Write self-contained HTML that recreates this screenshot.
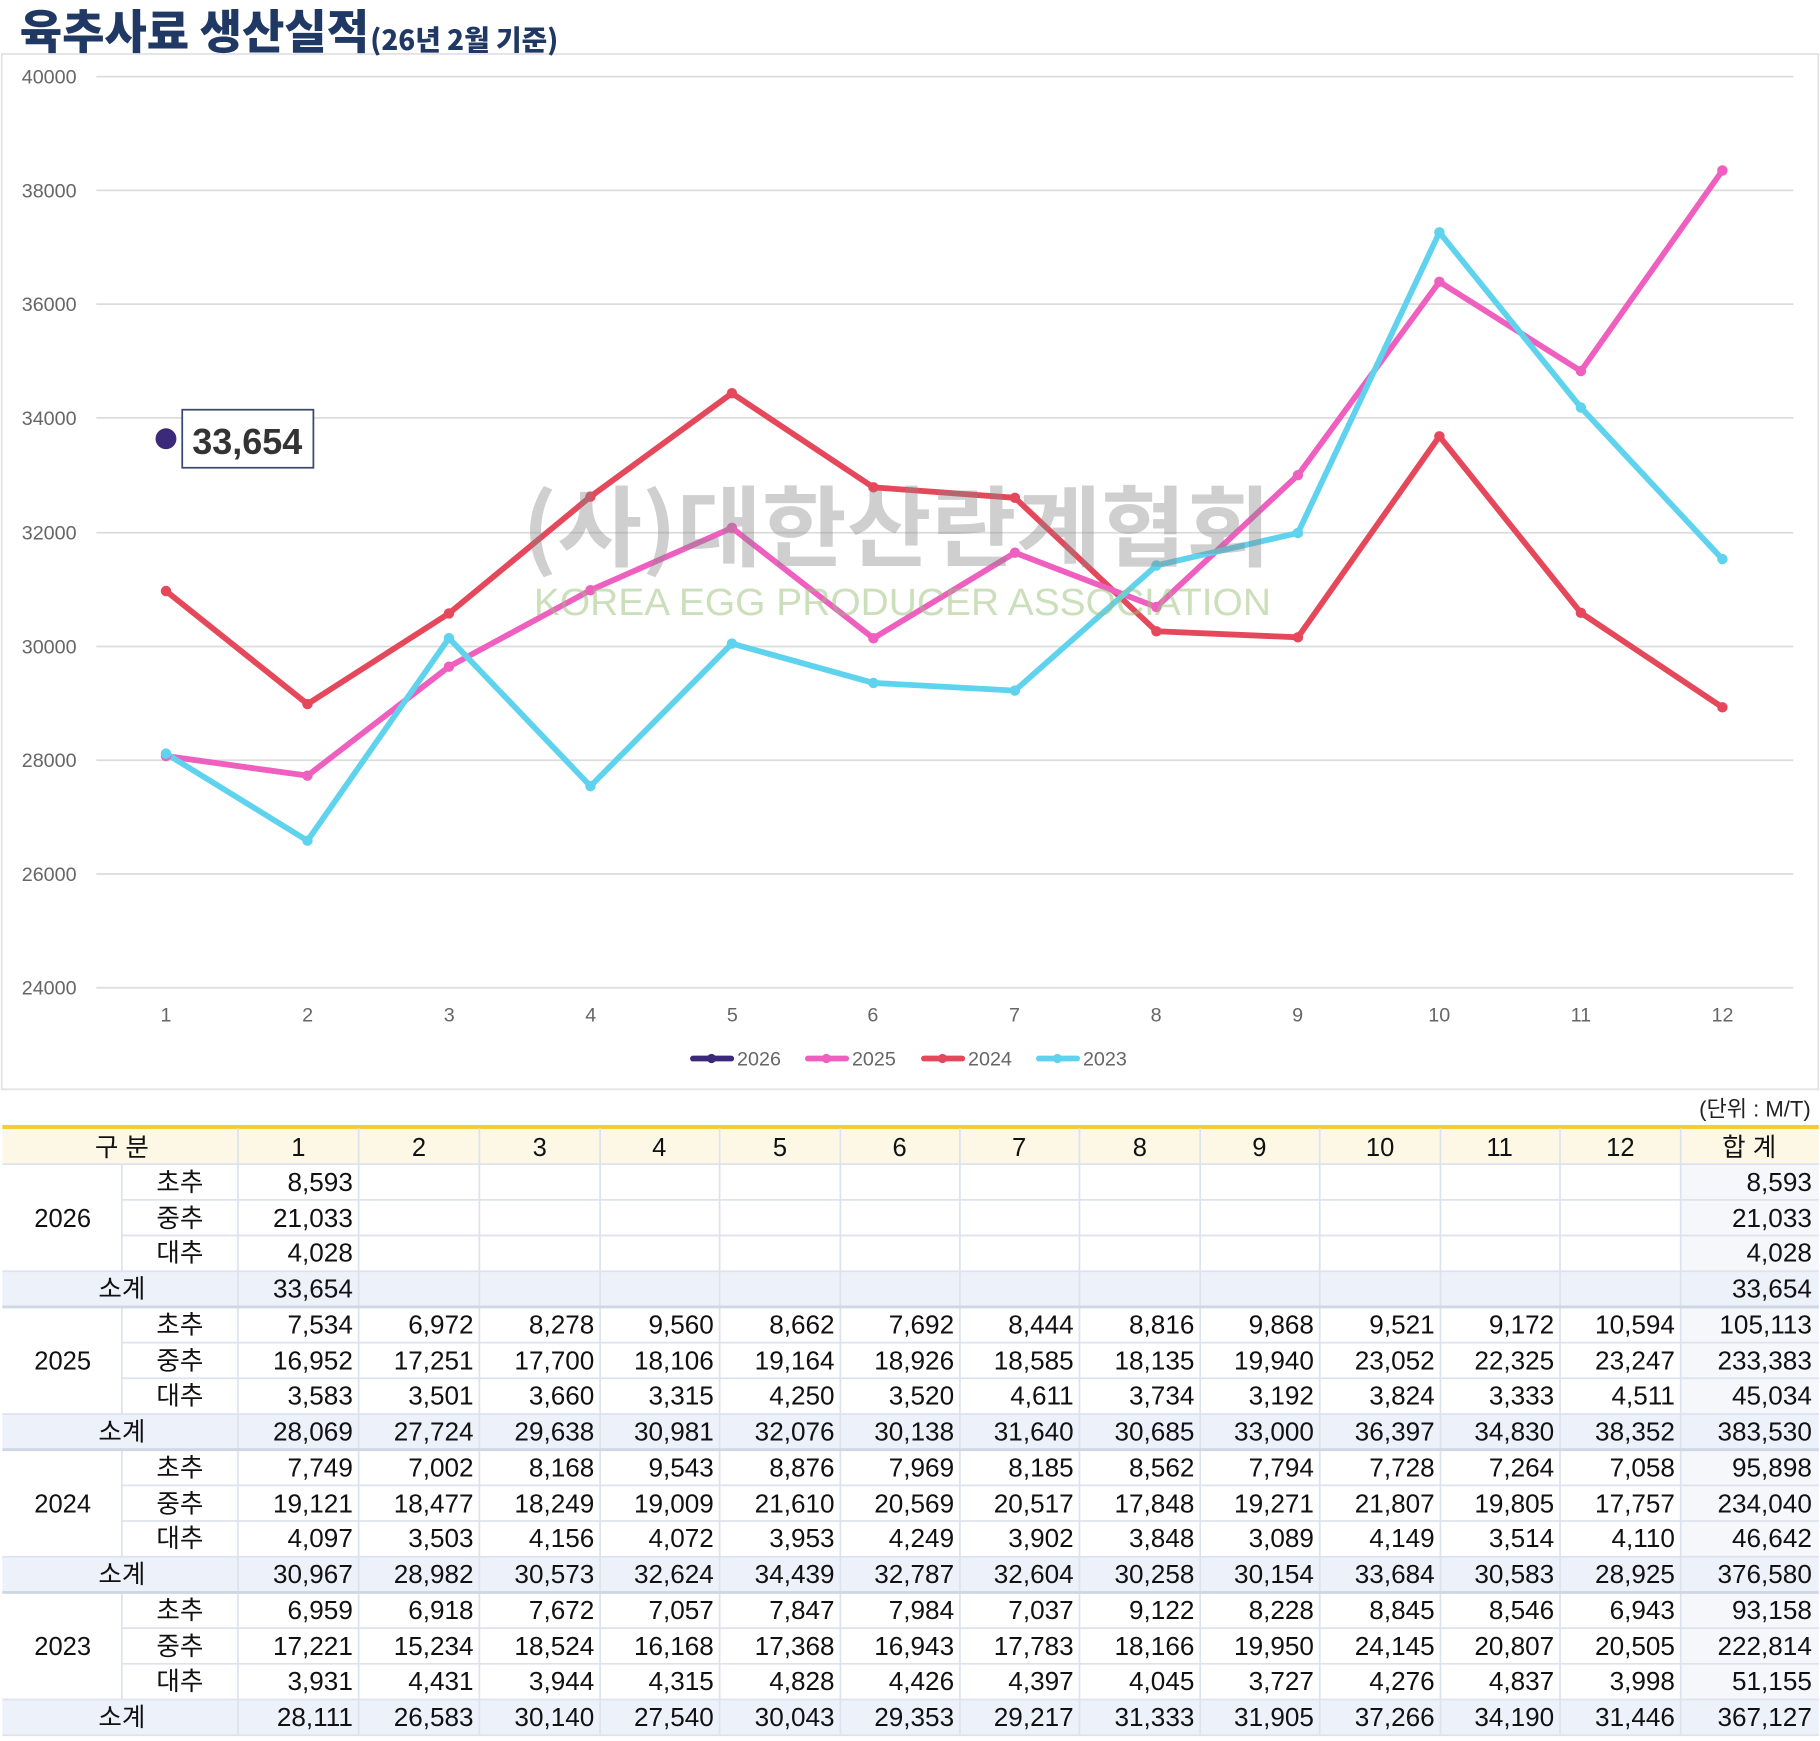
<!DOCTYPE html>
<html><head><meta charset="utf-8"><style>
html,body{margin:0;padding:0;background:#fff;}
svg{display:block;}
text{font-family:"Liberation Sans","Noto Sans CJK KR",sans-serif;}
.ax{font-size:17px;fill:#666;}
.t{font-size:22px;fill:#111;}
.n{font-size:22.5px;fill:#111;text-anchor:end;}
.c{text-anchor:middle;}
</style></head><body>
<svg width="1820" height="1741" viewBox="0 0 1568 1500" preserveAspectRatio="none" xmlns="http://www.w3.org/2000/svg">
<rect x="0" y="0" width="1568" height="1500" fill="#fff"/>
<rect x="1.5" y="46.5" width="1565" height="892" fill="#fff" stroke="#e2e2e2" stroke-width="1.5"/>
<text x="17" y="42" style="font-size:40px;font-weight:900;fill:#1f3864;font-family:'Noto Sans CJK KR',sans-serif" textLength="301" lengthAdjust="spacingAndGlyphs">육추사료 생산실적</text>
<text x="319" y="43" style="font-size:24px;font-weight:900;fill:#1f3864;font-family:'Noto Sans CJK KR',sans-serif" textLength="162" lengthAdjust="spacingAndGlyphs">(26년 2월 기준)</text>
<g stroke="#dcdcdc" stroke-width="1.5">
<line x1="83" x2="1545" y1="66" y2="66"/><line x1="83" x2="1545" y1="164" y2="164"/>
<line x1="83" x2="1545" y1="262" y2="262"/><line x1="83" x2="1545" y1="360" y2="360"/>
<line x1="83" x2="1545" y1="459" y2="459"/><line x1="83" x2="1545" y1="557" y2="557"/>
<line x1="83" x2="1545" y1="655" y2="655"/><line x1="83" x2="1545" y1="753" y2="753"/>
<line x1="83" x2="1545" y1="851" y2="851"/>
</g>
<g class="ax" text-anchor="end">
<text x="66" y="72">40000</text><text x="66" y="170">38000</text><text x="66" y="268">36000</text>
<text x="66" y="366">34000</text><text x="66" y="465">32000</text><text x="66" y="563">30000</text>
<text x="66" y="661">28000</text><text x="66" y="759">26000</text><text x="66" y="857">24000</text>
</g>
<g class="ax" text-anchor="middle">
<text x="143" y="880">1</text><text x="265" y="880">2</text><text x="387" y="880">3</text>
<text x="509" y="880">4</text><text x="631" y="880">5</text><text x="752" y="880">6</text>
<text x="874" y="880">7</text><text x="996" y="880">8</text><text x="1118" y="880">9</text>
<text x="1240" y="880">10</text><text x="1362" y="880">11</text><text x="1484" y="880">12</text>
</g>
<g fill="none" stroke-width="5" stroke-linejoin="round" stroke-linecap="round">
<polyline stroke="#e5485a" points="143,509.2 264.9,606.6 386.8,528.5 508.7,427.9 630.6,338.8 752.5,419.9 874.4,428.9 996.3,543.9 1118.2,549.1 1240.1,375.9 1362,528 1483.9,609.4"/>
<polyline stroke="#ef5fbf" points="143,651.4 264.9,668.3 386.8,574.4 508.7,508.5 630.6,454.8 752.5,549.9 874.4,476.2 996.3,523 1118.2,409.4 1240.1,242.8 1362,319.7 1483.9,146.9"/>
<polyline stroke="#5fd3ee" points="143,649.3 264.9,724.3 386.8,549.8 508.7,677.3 630.6,554.5 752.5,588.4 874.4,595 996.3,487.2 1118.2,459.2 1240.1,200.2 1362,351.1 1483.9,481.7"/>
</g>
<g fill="#e5485a"><circle cx="143" cy="509.2" r="4.5"/><circle cx="264.9" cy="606.6" r="4.5"/><circle cx="386.8" cy="528.5" r="4.5"/><circle cx="508.7" cy="427.9" r="4.5"/><circle cx="630.6" cy="338.8" r="4.5"/><circle cx="752.5" cy="419.9" r="4.5"/><circle cx="874.4" cy="428.9" r="4.5"/><circle cx="996.3" cy="543.9" r="4.5"/><circle cx="1118.2" cy="549.1" r="4.5"/><circle cx="1240.1" cy="375.9" r="4.5"/><circle cx="1362" cy="528" r="4.5"/><circle cx="1483.9" cy="609.4" r="4.5"/></g>
<g fill="#ef5fbf"><circle cx="143" cy="651.4" r="4.5"/><circle cx="264.9" cy="668.3" r="4.5"/><circle cx="386.8" cy="574.4" r="4.5"/><circle cx="508.7" cy="508.5" r="4.5"/><circle cx="630.6" cy="454.8" r="4.5"/><circle cx="752.5" cy="549.9" r="4.5"/><circle cx="874.4" cy="476.2" r="4.5"/><circle cx="996.3" cy="523" r="4.5"/><circle cx="1118.2" cy="409.4" r="4.5"/><circle cx="1240.1" cy="242.8" r="4.5"/><circle cx="1362" cy="319.7" r="4.5"/><circle cx="1483.9" cy="146.9" r="4.5"/></g>
<g fill="#5fd3ee"><circle cx="143" cy="649.3" r="4.5"/><circle cx="264.9" cy="724.3" r="4.5"/><circle cx="386.8" cy="549.8" r="4.5"/><circle cx="508.7" cy="677.3" r="4.5"/><circle cx="630.6" cy="554.5" r="4.5"/><circle cx="752.5" cy="588.4" r="4.5"/><circle cx="874.4" cy="595" r="4.5"/><circle cx="996.3" cy="487.2" r="4.5"/><circle cx="1118.2" cy="459.2" r="4.5"/><circle cx="1240.1" cy="200.2" r="4.5"/><circle cx="1362" cy="351.1" r="4.5"/><circle cx="1483.9" cy="481.7" r="4.5"/></g>
<text x="450" y="482" style="font-size:76px;font-weight:bold;fill:#888;opacity:0.4;font-family:'Noto Sans CJK KR',sans-serif" textLength="645" lengthAdjust="spacingAndGlyphs">(사)대한산란계협회</text>
<text x="460" y="530" style="font-size:33px;fill:#9bc07a;opacity:0.5" textLength="635" lengthAdjust="spacingAndGlyphs">KOREA EGG PRODUCER ASSOCIATION</text>
<circle cx="143" cy="378" r="9" fill="#3b2a7a"/>
<rect x="157" y="353" width="113" height="50" fill="#fff" stroke="#3a4a6a" stroke-width="1.5"/>
<text x="213" y="391" text-anchor="middle" style="font-size:31px;font-weight:bold;fill:#333">33,654</text>
<g stroke-width="5" stroke-linecap="round">
<line x1="597" x2="630" y1="912" y2="912" stroke="#3b2a7a"/><circle cx="613" cy="912" r="4" fill="#3b2a7a"/>
<line x1="696" x2="729" y1="912" y2="912" stroke="#ef5fbf"/><circle cx="712" cy="912" r="4" fill="#ef5fbf"/>
<line x1="796" x2="829" y1="912" y2="912" stroke="#e5485a"/><circle cx="812" cy="912" r="4" fill="#e5485a"/>
<line x1="895" x2="928" y1="912" y2="912" stroke="#5fd3ee"/><circle cx="911" cy="912" r="4" fill="#5fd3ee"/>
</g>
<g class="ax"><text x="635" y="918">2026</text><text x="734" y="918">2025</text><text x="834" y="918">2024</text><text x="933" y="918">2023</text></g>
<text x="1560" y="962" text-anchor="end" style="font-size:19px;fill:#222">(단위 : M/T)</text>
<rect x="2" y="972" width="1565" height="31" fill="#fdf8e6"/>
<rect x="1448" y="1003" width="119" height="492" fill="#f6f7fb"/>
<g fill="#edf1fa">
<rect x="2" y="1095.25" width="1565" height="30.75"/>
<rect x="2" y="1218.25" width="1565" height="30.75"/>
<rect x="2" y="1341.25" width="1565" height="30.75"/>
<rect x="2" y="1464.25" width="1565" height="30.75"/>
</g>
<line x1="2" x2="1567" y1="971" y2="971" stroke="#f3cc3a" stroke-width="3.5"/>
<g stroke="#dde3ee" stroke-width="1.5">
<line x1="2" x2="1567" y1="1003" y2="1003"/>
<line x1="105" x2="1567" y1="1033.75" y2="1033.75"/><line x1="105" x2="1567" y1="1064.5" y2="1064.5"/><line x1="2" x2="1567" y1="1095.25" y2="1095.25"/>
<line x1="105" x2="1567" y1="1156.75" y2="1156.75"/><line x1="105" x2="1567" y1="1187.5" y2="1187.5"/><line x1="2" x2="1567" y1="1218.25" y2="1218.25"/>
<line x1="105" x2="1567" y1="1279.75" y2="1279.75"/><line x1="105" x2="1567" y1="1310.5" y2="1310.5"/><line x1="2" x2="1567" y1="1341.25" y2="1341.25"/>
<line x1="105" x2="1567" y1="1402.75" y2="1402.75"/><line x1="105" x2="1567" y1="1433.5" y2="1433.5"/><line x1="2" x2="1567" y1="1464.25" y2="1464.25"/>
<line x1="2" x2="1567" y1="1495" y2="1495"/>
<line x1="105" x2="105" y1="1003" y2="1095"/><line x1="105" x2="105" y1="1126" y2="1218"/><line x1="105" x2="105" y1="1249" y2="1341"/><line x1="105" x2="105" y1="1372" y2="1464"/>
<line x1="205" x2="205" y1="972" y2="1495"/><line x1="309" x2="309" y1="972" y2="1495"/><line x1="413" x2="413" y1="972" y2="1495"/>
<line x1="517" x2="517" y1="972" y2="1495"/><line x1="620" x2="620" y1="972" y2="1495"/><line x1="724" x2="724" y1="972" y2="1495"/>
<line x1="827" x2="827" y1="972" y2="1495"/><line x1="930" x2="930" y1="972" y2="1495"/><line x1="1034" x2="1034" y1="972" y2="1495"/>
<line x1="1137" x2="1137" y1="972" y2="1495"/><line x1="1241" x2="1241" y1="972" y2="1495"/><line x1="1344" x2="1344" y1="972" y2="1495"/>
<line x1="1448" x2="1448" y1="972" y2="1495"/>
</g>
<g stroke="#cfd6e4" stroke-width="2.5"><line x1="2" x2="1567" y1="1126" y2="1126"/><line x1="2" x2="1567" y1="1249" y2="1249"/><line x1="2" x2="1567" y1="1372" y2="1372"/></g>
<g class="t c" text-anchor="middle">
<text x="105" y="996">구 분</text><text x="257" y="996">1</text><text x="361" y="996">2</text><text x="465" y="996">3</text><text x="568" y="996">4</text><text x="672" y="996">5</text><text x="775" y="996">6</text><text x="878" y="996">7</text><text x="982" y="996">8</text><text x="1085" y="996">9</text><text x="1189" y="996">10</text><text x="1292" y="996">11</text><text x="1396" y="996">12</text><text x="1507" y="996">합 계</text>
<text x="54" y="1057">2026</text><text x="54" y="1180">2025</text><text x="54" y="1303">2024</text><text x="54" y="1426">2023</text>
<text x="155" y="1026">초추</text><text x="155" y="1057">중추</text><text x="155" y="1087">대추</text><text x="105" y="1118">소계</text>
<text x="155" y="1149">초추</text><text x="155" y="1180">중추</text><text x="155" y="1210">대추</text><text x="105" y="1241">소계</text>
<text x="155" y="1272">초추</text><text x="155" y="1303">중추</text><text x="155" y="1333">대추</text><text x="105" y="1364">소계</text>
<text x="155" y="1395">초추</text><text x="155" y="1426">중추</text><text x="155" y="1456">대추</text><text x="105" y="1487">소계</text>
</g>
<g class="n">
<text x="304" y="1026">8,593</text><text x="1561" y="1026">8,593</text>
<text x="304" y="1057">21,033</text><text x="1561" y="1057">21,033</text>
<text x="304" y="1087">4,028</text><text x="1561" y="1087">4,028</text>
<text x="304" y="1118">33,654</text><text x="1561" y="1118">33,654</text>
</g>
<g class="n" transform="translate(0,1149)">
<text x="304">7,534</text><text x="408">6,972</text><text x="512">8,278</text><text x="615">9,560</text><text x="719">8,662</text><text x="822">7,692</text><text x="925">8,444</text><text x="1029">8,816</text><text x="1132">9,868</text><text x="1236">9,521</text><text x="1339">9,172</text><text x="1443">10,594</text><text x="1561">105,113</text>
</g>
<g class="n" transform="translate(0,1180)">
<text x="304">16,952</text><text x="408">17,251</text><text x="512">17,700</text><text x="615">18,106</text><text x="719">19,164</text><text x="822">18,926</text><text x="925">18,585</text><text x="1029">18,135</text><text x="1132">19,940</text><text x="1236">23,052</text><text x="1339">22,325</text><text x="1443">23,247</text><text x="1561">233,383</text>
</g>
<g class="n" transform="translate(0,1210)">
<text x="304">3,583</text><text x="408">3,501</text><text x="512">3,660</text><text x="615">3,315</text><text x="719">4,250</text><text x="822">3,520</text><text x="925">4,611</text><text x="1029">3,734</text><text x="1132">3,192</text><text x="1236">3,824</text><text x="1339">3,333</text><text x="1443">4,511</text><text x="1561">45,034</text>
</g>
<g class="n" transform="translate(0,1241)">
<text x="304">28,069</text><text x="408">27,724</text><text x="512">29,638</text><text x="615">30,981</text><text x="719">32,076</text><text x="822">30,138</text><text x="925">31,640</text><text x="1029">30,685</text><text x="1132">33,000</text><text x="1236">36,397</text><text x="1339">34,830</text><text x="1443">38,352</text><text x="1561">383,530</text>
</g>
<g class="n" transform="translate(0,1272)">
<text x="304">7,749</text><text x="408">7,002</text><text x="512">8,168</text><text x="615">9,543</text><text x="719">8,876</text><text x="822">7,969</text><text x="925">8,185</text><text x="1029">8,562</text><text x="1132">7,794</text><text x="1236">7,728</text><text x="1339">7,264</text><text x="1443">7,058</text><text x="1561">95,898</text>
</g>
<g class="n" transform="translate(0,1303)">
<text x="304">19,121</text><text x="408">18,477</text><text x="512">18,249</text><text x="615">19,009</text><text x="719">21,610</text><text x="822">20,569</text><text x="925">20,517</text><text x="1029">17,848</text><text x="1132">19,271</text><text x="1236">21,807</text><text x="1339">19,805</text><text x="1443">17,757</text><text x="1561">234,040</text>
</g>
<g class="n" transform="translate(0,1333)">
<text x="304">4,097</text><text x="408">3,503</text><text x="512">4,156</text><text x="615">4,072</text><text x="719">3,953</text><text x="822">4,249</text><text x="925">3,902</text><text x="1029">3,848</text><text x="1132">3,089</text><text x="1236">4,149</text><text x="1339">3,514</text><text x="1443">4,110</text><text x="1561">46,642</text>
</g>
<g class="n" transform="translate(0,1364)">
<text x="304">30,967</text><text x="408">28,982</text><text x="512">30,573</text><text x="615">32,624</text><text x="719">34,439</text><text x="822">32,787</text><text x="925">32,604</text><text x="1029">30,258</text><text x="1132">30,154</text><text x="1236">33,684</text><text x="1339">30,583</text><text x="1443">28,925</text><text x="1561">376,580</text>
</g>
<g class="n" transform="translate(0,1395)">
<text x="304">6,959</text><text x="408">6,918</text><text x="512">7,672</text><text x="615">7,057</text><text x="719">7,847</text><text x="822">7,984</text><text x="925">7,037</text><text x="1029">9,122</text><text x="1132">8,228</text><text x="1236">8,845</text><text x="1339">8,546</text><text x="1443">6,943</text><text x="1561">93,158</text>
</g>
<g class="n" transform="translate(0,1426)">
<text x="304">17,221</text><text x="408">15,234</text><text x="512">18,524</text><text x="615">16,168</text><text x="719">17,368</text><text x="822">16,943</text><text x="925">17,783</text><text x="1029">18,166</text><text x="1132">19,950</text><text x="1236">24,145</text><text x="1339">20,807</text><text x="1443">20,505</text><text x="1561">222,814</text>
</g>
<g class="n" transform="translate(0,1456)">
<text x="304">3,931</text><text x="408">4,431</text><text x="512">3,944</text><text x="615">4,315</text><text x="719">4,828</text><text x="822">4,426</text><text x="925">4,397</text><text x="1029">4,045</text><text x="1132">3,727</text><text x="1236">4,276</text><text x="1339">4,837</text><text x="1443">3,998</text><text x="1561">51,155</text>
</g>
<g class="n" transform="translate(0,1487)">
<text x="304">28,111</text><text x="408">26,583</text><text x="512">30,140</text><text x="615">27,540</text><text x="719">30,043</text><text x="822">29,353</text><text x="925">29,217</text><text x="1029">31,333</text><text x="1132">31,905</text><text x="1236">37,266</text><text x="1339">34,190</text><text x="1443">31,446</text><text x="1561">367,127</text>
</g>
</svg>
</body></html>
